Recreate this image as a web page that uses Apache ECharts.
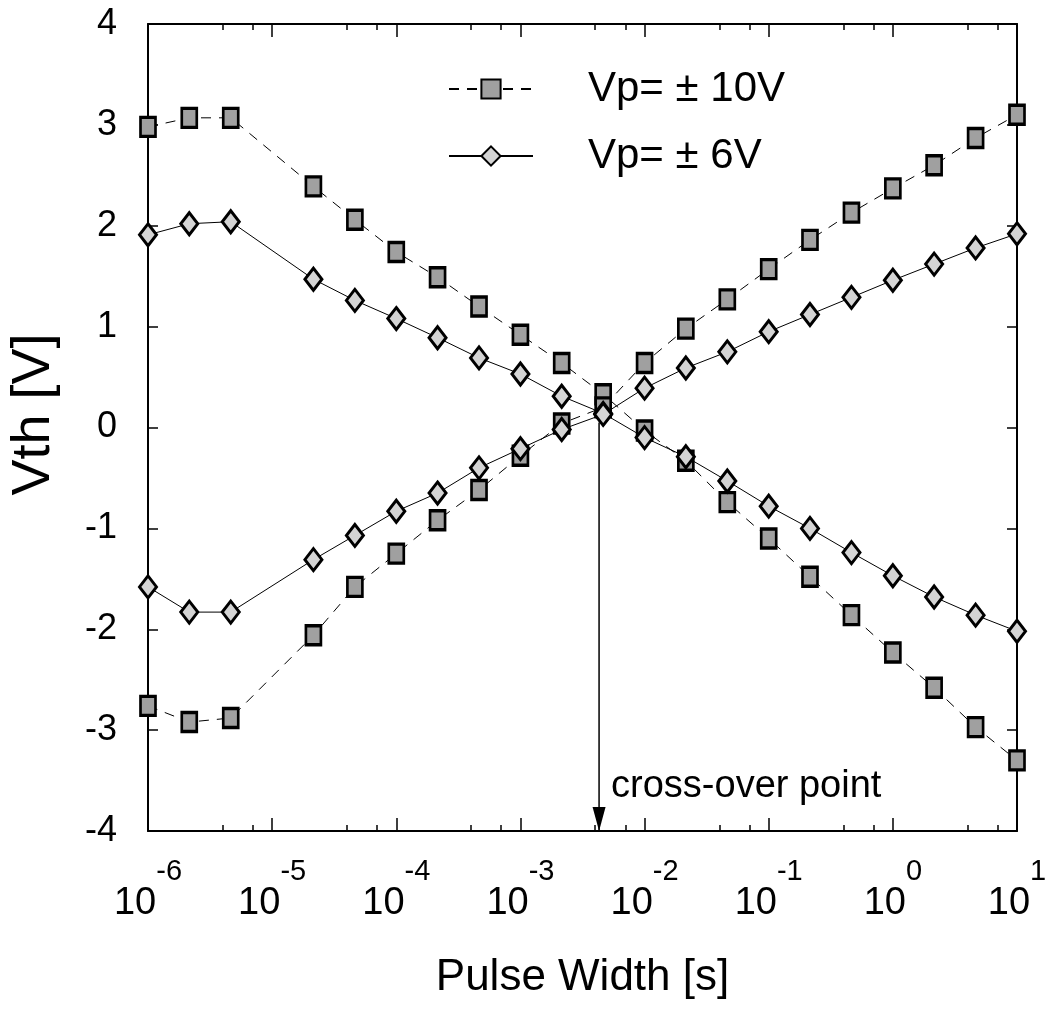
<!DOCTYPE html>
<html><head><meta charset="utf-8">
<script src="https://cdn.jsdelivr.net/npm/echarts@6/dist/echarts.min.js"></script>
<style>html,body{margin:0;padding:0;background:#fff}#c{width:1047px;height:1011px}</style>
</head><body><div id="c"></div>
<script>
// Pulse width [s]
const pulseWidth = [1e-6, 2.15e-6, 4.64e-6, 2.15e-5, 4.64e-5, 1e-4, 2.15e-4, 4.64e-4, 1e-3, 2.15e-3, 4.64e-3,
  1e-2, 2.15e-2, 4.64e-2, 0.1, 0.215, 0.464, 1, 2.15, 4.64, 10];
// Vp = ±10V (squares)
const vth10Down = [2.98, 3.07, 3.07, 2.39, 2.06, 1.74, 1.49, 1.20, 0.92, 0.64, 0.33,
  -0.03, -0.33, -0.74, -1.10, -1.48, -1.86, -2.23, -2.58, -2.97, -3.30];
const vth10Up = [-2.76, -2.92, -2.88, -2.06, -1.58, -1.25, -0.92, -0.62, -0.28, 0.04, 0.20,
  0.64, 0.98, 1.27, 1.57, 1.86, 2.13, 2.37, 2.60, 2.87, 3.10];
// Vp = ±6V (diamonds)
const vth6Down = [1.91, 2.02, 2.04, 1.47, 1.26, 1.08, 0.89, 0.69, 0.53, 0.31, 0.14,
  -0.10, -0.29, -0.53, -0.78, -1.00, -1.24, -1.47, -1.68, -1.86, -2.02];
const vth6Up = [-1.58, -1.83, -1.83, -1.31, -1.07, -0.83, -0.65, -0.40, -0.21, -0.02, 0.13,
  0.39, 0.59, 0.75, 0.95, 1.12, 1.29, 1.46, 1.62, 1.78, 1.92];
const legendNames = ['Vp= \u00B1 10V', 'Vp= \u00B1 6V'];
const minorTickValues = [4e-6, 7e-6, 4e-5, 7e-5, 4e-4, 7e-4, 4e-3, 7e-3, 4e-2, 7e-2, 0.4, 0.7, 4, 7];
const crossOverX = 4.3e-3;
const crossOverY = [0.05, -4];
const crossOverLabelY = -3.56;
const crossOverText = 'cross-over point';

const SANS = '"Liberation Sans", Arial, sans-serif';

function pairs(ys) { return pulseWidth.map((x, i) => [x, ys[i]]); }

const sqStyle = {
  type: 'line', symbol: 'rect', symbolSize: [15, 19], clip: false, z: 3,
  itemStyle: { color: '#a0a0a0', borderColor: '#000', borderWidth: 3 },
  lineStyle: { color: '#000', width: 1, type: [10, 8] }
};
const dmStyle = {
  type: 'line', symbol: 'diamond', symbolSize: [17, 22], clip: false, z: 4,
  itemStyle: { color: '#d4d4d4', borderColor: '#000', borderWidth: 3 },
  lineStyle: { color: '#000', width: 1, type: 'solid' }
};

const axisLineStyle = { show: true, onZero: false, lineStyle: { color: '#000', width: 2 } };

const option = {
  animation: false,
  backgroundColor: '#fff',
  grid: { left: 148, right: 30, top: 24, bottom: 180, containLabel: false, outerBoundsMode: 'none' },
  legend: {
    data: legendNames, orient: 'vertical', left: 448, top: 68, padding: 0,
    itemWidth: 84, itemHeight: 24, itemGap: 25,
    formatter: n => '{t|' + n + '}',
    textStyle: { fontFamily: SANS, fontSize: 42, lineHeight: 42, color: '#000',
      rich: { t: { fontFamily: SANS, fontSize: 42, lineHeight: 42, color: '#000', padding: [0, 0, 0, 50] } } }
  },
  xAxis: [
    {
      type: 'log', logBase: 10, min: 1e-6, max: 10, position: 'bottom', gridIndex: 0,
      axisLine: axisLineStyle,
      axisTick: { show: true, inside: true, length: 13, lineStyle: { color: '#000', width: 1.5 } },
      splitLine: { show: false }, minorTick: { show: false },
      axisLabel: {
        margin: 26, color: '#000',
        formatter: v => '{b|10}{s|' + Math.round(Math.log10(v)) + '}',
        rich: {
          b: { fontFamily: SANS, fontSize: 38, lineHeight: 66, verticalAlign: 'bottom', color: '#000' },
          s: { fontFamily: SANS, fontSize: 29, lineHeight: 30, verticalAlign: 'top', color: '#000' }
        }
      },
      name: 'Pulse Width [s]', nameLocation: 'middle', nameGap: 125,
      nameTextStyle: { fontFamily: SANS, fontSize: 44, color: '#000' }
    },
    {
      type: 'log', logBase: 10, min: 1e-6, max: 10, position: 'top', gridIndex: 0,
      axisLine: axisLineStyle,
      axisTick: { show: true, inside: true, length: 13, lineStyle: { color: '#000', width: 1.5 } },
      splitLine: { show: false }, axisLabel: { show: false }
    },
    {
      type: 'value', min: -6, max: 1, position: 'bottom', gridIndex: 0,
      axisLine: { show: false, onZero: false },
      axisTick: { show: true, inside: true, length: 6, lineStyle: { color: '#000', width: 1.5 },
        customValues: minorTickValues.map(v => Math.log10(v)) },
      splitLine: { show: false }, axisLabel: { show: false }
    },
    {
      type: 'value', min: -6, max: 1, position: 'top', gridIndex: 0,
      axisLine: { show: false, onZero: false },
      axisTick: { show: true, inside: true, length: 6, lineStyle: { color: '#000', width: 1.5 },
        customValues: minorTickValues.map(v => Math.log10(v)) },
      splitLine: { show: false }, axisLabel: { show: false }
    }
  ],
  yAxis: [
    {
      type: 'value', min: -4, max: 4, interval: 1, position: 'left',
      axisLine: axisLineStyle,
      axisTick: { show: true, inside: true, length: 10, lineStyle: { color: '#000', width: 1.5 } },
      splitLine: { show: false },
      axisLabel: { margin: 31, color: '#000', fontFamily: SANS, fontSize: 36 },
      name: 'Vth [V]', nameLocation: 'middle', nameGap: 87, nameRotate: 90,
      nameTextStyle: { fontFamily: SANS, fontSize: 54, color: '#000', padding: [0, 0, 0, 26] }
    },
    {
      type: 'value', min: -4, max: 4, interval: 1, position: 'right',
      axisLine: axisLineStyle,
      axisTick: { show: true, inside: true, length: 10, lineStyle: { color: '#000', width: 1.5 } },
      splitLine: { show: false }, axisLabel: { show: false }
    }
  ],
  series: [
    Object.assign({ name: legendNames[0], data: pairs(vth10Down) }, sqStyle),
    Object.assign({ name: legendNames[0], data: pairs(vth10Up) }, sqStyle),
    Object.assign({ name: legendNames[1], data: pairs(vth6Down) }, dmStyle),
    Object.assign({ name: legendNames[1], data: pairs(vth6Up) }, dmStyle),
    {
      type: 'line', name: 'crossover', z: 5, clip: false, silent: true,
      lineStyle: { color: '#000', width: 1.5, type: 'solid' },
      itemStyle: { color: '#000' },
      data: [
        { value: [crossOverX, crossOverY[0]], symbol: 'none' },
        { value: [crossOverX, crossOverY[1]], symbol: 'triangle', symbolSize: [13, 24],
          symbolRotate: 180, symbolOffset: [0, -12] }
      ],
      markPoint: {
        silent: true, symbol: 'circle', symbolSize: 0,
        label: { show: true, position: 'right', distance: 12, formatter: crossOverText,
          fontFamily: SANS, fontSize: 38, color: '#000' },
        data: [{ coord: [crossOverX, crossOverLabelY] }]
      }
    }
  ]
};
const chart = echarts.init(document.getElementById('c'), null, { renderer: 'canvas' });
chart.setOption(option);
</script></body></html>
